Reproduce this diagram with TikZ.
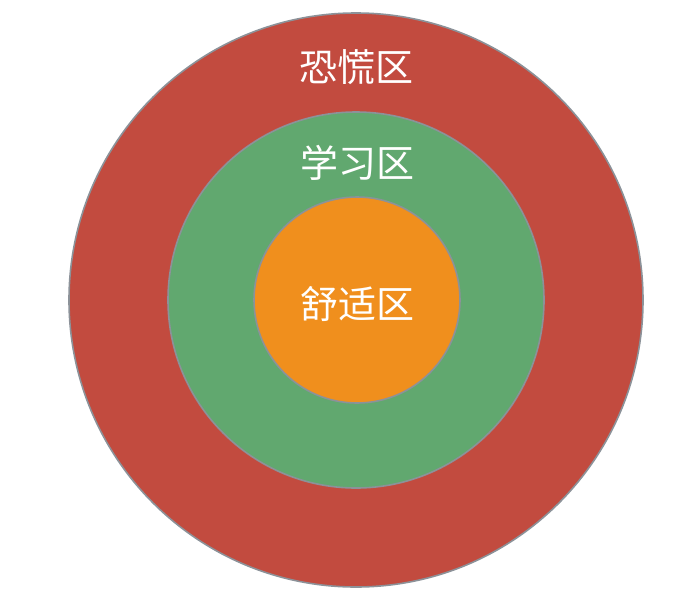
\documentclass[tikz,border=0pt]{standalone}
\usepackage{fontspec}
\newfontfamily\cjk{Noto Sans CJK SC}
\definecolor{zred}{HTML}{C24B3F}
\definecolor{zgreen}{HTML}{61A86F}
\definecolor{zorange}{HTML}{F08F1D}
\definecolor{zedge}{HTML}{8C9299}
\tikzset{zone/.style={circle,draw=zedge,line width=1.6pt,inner sep=0pt},
  lab/.style={text=white,font=\cjk\fontsize{38}{40}\selectfont,inner sep=0pt}}
\begin{document}
\begin{tikzpicture}[x=1pt,y=-1pt]
\useasboundingbox (0,0) rectangle (691,606);
\node[zone,fill=zred,minimum size=574pt] (outer) at (356,300) {};
\node[zone,fill=zgreen,minimum size=376pt] (middle) at (356,300) {};
\node[zone,fill=zorange,minimum size=206pt] (inner) at (357,300) {};
\node[lab] (t1) at (356,67) {恐慌区};
\node[lab] (t2) at (357,163) {学习区};
\node[lab] (t3) at (357,304) {舒适区};
\end{tikzpicture}
\end{document}
